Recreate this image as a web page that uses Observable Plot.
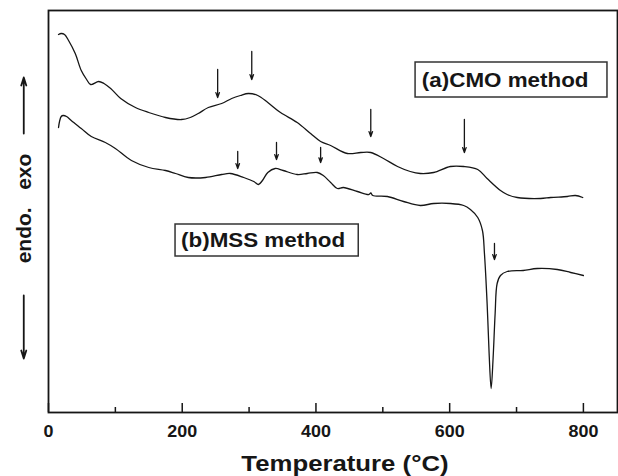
<!DOCTYPE html>
<html><head><meta charset="utf-8">
<script src="https://cdn.jsdelivr.net/npm/d3@7"></script>
<script src="https://cdn.jsdelivr.net/npm/@observablehq/plot@0.6"></script>
<style>
html,body{margin:0;padding:0;background:#fff;}
</style>
</head><body><div id="chart"></div>
<script>
// Curve (a) CMO method: temperature (°C) and DTA signal (arbitrary units)
const cmoTemp = [15,19,24,30,40,49,57,63,75,83,93,108,130,150,175,199,212,224,239,259,274,287,299,313,328,347,372,392,407,422,447,467,482,501,522,541,556,576,601,621,642,656,676,686,701,736,751,776,788,799];
const cmoSignal = [378,379,378,372,359,342,333,328,331,329,324,314,305,300,295,293,295,299,305,309,314,317,319,317,310,300,290,279,271,267,259,260,260,254,246,241,239,240,246,246,243,234,222,218,215,214,215,216,217,215];
// Curve (b) MSS method
const mssTemp = [15,16.5,19,22,27,34,49,64,85,100,124,150,175,190,209,235,259,272,292,307,314,320,328,339,351,372,387,402,411,422,432,441,462,479,482,485,507,531,556,576,601,621,631,642,649,652,656,659,662,665,668,671,676,686,710,731,761,781,800];
const mssSignal = [285,291,296,297,296,292,284,276,270,264,252,245,242,239,235,235,238,239,235,231,228,232,240,244,242,238,239,240,237,230,224,225,221,218,219.5,217,216,211,207,209,209,207,203,195,182,159,109,59,24,55,99,129,137,141,142,144,143,140,137];
// Peak marker arrows
const arrowTemp = [253,304,482,622,283,341,407,667];
const arrowTop = [343,361,303,293,261,270,265,169];
const arrowBottom = [315,333,276,260,244,253,250,153];
// Side "exo / endo" arrows
const sideArrowTemp = [-37,-37];
const sideArrowFrom = [279,117];
const sideArrowTo = [335,54];
// Legend boxes
const boxLabels = ["(a)CMO method","(b)MSS method"];
const boxTemp1 = [549,190], boxTemp2 = [836,464];
const boxSig1 = [315,156], boxSig2 = [350,188];
const labelTemp = [683,321], labelSig = [332,172];
// Axis
const majorTicks = [0,200,400,600,800];
const minorTicks = [100,300,500,700];
const xTitle = "Temperature (°C)";
const yTitle = "endo.\u00a0\u00a0\u00a0exo";

const cmo = cmoTemp.map((t,i)=>({t, v:cmoSignal[i]}));
const mss = mssTemp.map((t,i)=>({t, v:mssSignal[i]}));
const arrows = arrowTemp.map((t,i)=>({t, a:arrowTop[i], b:arrowBottom[i]}));
const side = sideArrowTemp.map((t,i)=>({t, a:sideArrowFrom[i], b:sideArrowTo[i]}));
const boxes = boxLabels.map((l,i)=>({l, x1:boxTemp1[i], x2:boxTemp2[i], y1:boxSig1[i], y2:boxSig2[i], tx:labelTemp[i], ty:labelSig[i]}));

const ink = "#161616";
const svg = Plot.plot({
  width: 618, height: 476,
  marginLeft: 48, marginRight: 1, marginTop: 10, marginBottom: 64,
  style: {fontFamily: "'Liberation Sans', Arial, sans-serif", fontWeight: "bold", background: "#fff", color: ink},
  x: {domain: [0, 851]},
  y: {domain: [0, 402], axis: null},
  marks: [
    Plot.axisX(majorTicks, {tickSize: -9, tickPadding: 22, fontSize: 16, strokeWidth: 1.5, tickFormat: d => String(d), label: null}),
    Plot.axisX(minorTicks, {tickSize: -5, strokeWidth: 1.5, tickFormat: () => "", label: null}),
    Plot.line(cmo, {x: "t", y: "v", stroke: ink, strokeWidth: 1.3, curve: "catmull-rom"}),
    Plot.line(mss, {x: "t", y: "v", stroke: ink, strokeWidth: 1.3, curve: "catmull-rom"}),
    Plot.arrow(arrows, {x1: "t", x2: "t", y1: "a", y2: "b", stroke: ink, strokeWidth: 1.3, headLength: 6, headAngle: 40}),
    Plot.arrow(side, {x1: "t", x2: "t", y1: "a", y2: "b", stroke: ink, strokeWidth: 1.8, headLength: 7, headAngle: 35}),
    Plot.rect(boxes, {x1: "x1", x2: "x2", y1: "y1", y2: "y2", fill: "#fff", stroke: "#333", strokeWidth: 1.5}),
    Plot.text(boxes, {x: "tx", y: "ty", text: "l", fontSize: 20, fill: ink, lineAnchor: "middle"}),
    Plot.text([xTitle], {frameAnchor: "bottom", dx: 12, dy: 42, lineAnchor: "top", fontSize: 23, fill: ink}),
    Plot.text([yTitle], {frameAnchor: "left", textAnchor: "middle", lineAnchor: "middle", dx: -24, dy: -3, rotate: -90, fontSize: 21, fill: ink}),
    Plot.frame({stroke: ink, strokeWidth: 1.8})
  ]
});
// horizontal stretch of horizontal texts to match reference glyph proportions
svg.querySelectorAll("text").forEach(t => {
  const tr = t.getAttribute("transform") || "";
  if (!tr.includes("rotate") && tr.includes("translate")) t.setAttribute("transform", tr + " scale(1.12,1)");
});
document.getElementById("chart").appendChild(svg);
</script>
</body></html>
